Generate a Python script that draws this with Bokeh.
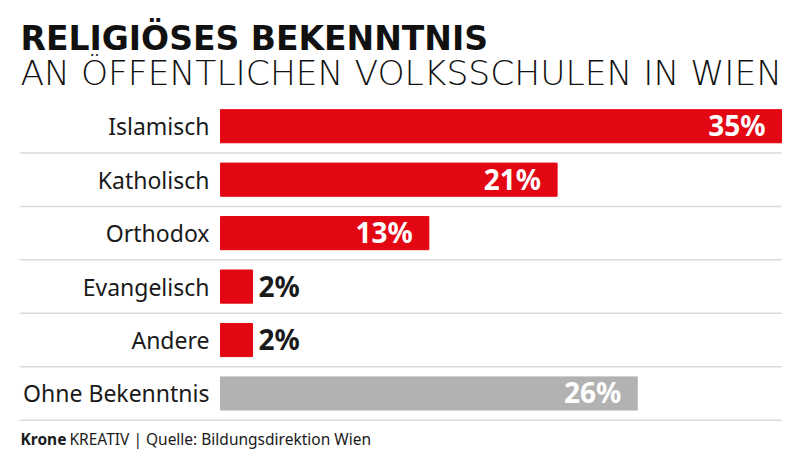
from bokeh.plotting import figure
from bokeh.models import ColumnDataSource, Label, Range1d
from bokeh.core.properties import value
from bokeh.embed import file_html
from bokeh.resources import INLINE

# ---- data ----
categories = ["Islamisch", "Katholisch", "Orthodox", "Evangelisch", "Andere", "Ohne Bekenntnis"]
values = [35, 21, 13, 2, 2, 26]
bar_colors = ["#e30613", "#e30613", "#e30613", "#e30613", "#e30613", "#b2b2b2"]
title_text = "RELIGIÖSES BEKENNTNIS"
subtitle_text = "AN ÖFFENTLICHEN VOLKSSCHULEN IN WIEN"
footer_bold = "Krone"
footer_rest = "KREATIV | Quelle: Bildungsdirektion Wien"

W, H = 784, 451
n = len(categories)

# layout in picture pixels
zero_px = 220        # where bars start
end_px = 781         # where the largest bar ends
top_px = 99          # top of first row
pitch = 53.45        # row height
sep_left_px = 19

xscale = (end_px - zero_px) / max(values)

def px_x(px):
    return (px - zero_px) / xscale

def px_y(py):
    return (py - top_px) / pitch

ys = [i + 0.5 for i in range(n)]
inside = [v >= 5 for v in values]
src = ColumnDataSource(dict(cat=categories, val=values, y=ys, color=bar_colors, zero=[0] * n))
src_in = ColumnDataSource(dict(
    val=[v for v, k in zip(values, inside) if k],
    y=[y for y, k in zip(ys, inside) if k],
    lbl=[f"{v}%" for v, k in zip(values, inside) if k],
))
src_out = ColumnDataSource(dict(
    val=[v for v, k in zip(values, inside) if not k],
    y=[y for y, k in zip(ys, inside) if not k],
    lbl=[f"{v}%" for v, k in zip(values, inside) if not k],
))
sep_y = list(range(1, n + 1))
src_sep = ColumnDataSource(dict(y=sep_y, x0=[px_x(sep_left_px)] * n, x1=[max(values)] * n))

p = figure(width=W, height=H, output_backend="svg", toolbar_location=None,
           x_axis_type=None, y_axis_type=None,
           x_range=Range1d(px_x(0), px_x(W)), y_range=Range1d(px_y(H), px_y(0)),
           min_border=0)
p.outline_line_color = None
p.background_fill_color = "white"
p.border_fill_color = "white"

p.segment(x0="x0", x1="x1", y0="y", y1="y", source=src_sep,
          line_color="#dadada", line_width=1.5)

p.hbar(y="y", left="zero", right="val", height=0.62, color="color", source=src)

p.text(x="zero", y="y", text="cat", source=src, x_offset=-11,
       text_align="right", text_baseline="middle",
       text_font=value("Noto Sans"), text_font_size="23px", text_color="#1a1a1a")

p.text(x="val", y="y", text="lbl", source=src_in, x_offset=-16, y_offset=-1,
       text_align="right", text_baseline="middle",
       text_font=value("Noto Sans"), text_font_style="bold",
       text_font_size="28px", text_color="white")
p.text(x="val", y="y", text="lbl", source=src_out, x_offset=6, y_offset=-1,
       text_align="left", text_baseline="middle",
       text_font=value("Noto Sans"), text_font_style="bold",
       text_font_size="28px", text_color="#1a1a1a")

p.add_layout(Label(x=px_x(20), y=px_y(37.5), text=title_text,
                   text_font="DejaVu Sans", text_font_style="bold",
                   text_font_size="33px", text_color="#111111",
                   text_baseline="alphabetic", text_align="left"))
p.add_layout(Label(x=px_x(20), y=px_y(72), text=subtitle_text,
                   text_font="DejaVu Sans Light", text_font_size="34.5px", text_color="#111111",
                   text_baseline="alphabetic", text_align="left"))
p.add_layout(Label(x=px_x(20), y=px_y(438), text=footer_bold,
                   text_font="Noto Sans", text_font_style="bold",
                   text_font_size="15.5px", text_color="#1a1a1a",
                   text_baseline="alphabetic", text_align="left"))
p.add_layout(Label(x=px_x(69), y=px_y(438), text=footer_rest,
                   text_font="Noto Sans", text_font_size="15.5px", text_color="#1a1a1a",
                   text_baseline="alphabetic", text_align="left"))

open("out.html", "w").write(file_html(p, INLINE))
